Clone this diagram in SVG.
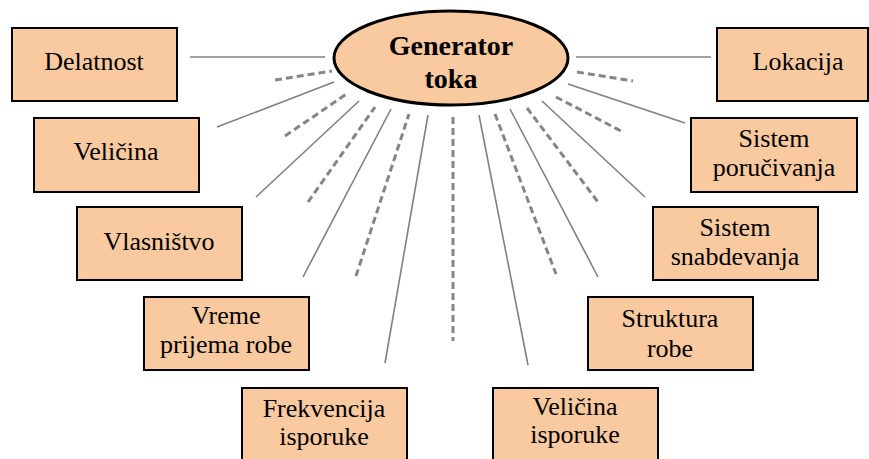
<svg xmlns="http://www.w3.org/2000/svg" width="869" height="459" viewBox="0 0 869 459">
<style>
.box{fill:#F9C9A0;stroke:#000;stroke-width:2}
.t{font-family:"Liberation Serif","Times New Roman",serif;font-size:26px;fill:#000;text-anchor:middle}
.tb{font-family:"Liberation Serif","Times New Roman",serif;font-size:28px;font-weight:bold;fill:#000;text-anchor:middle}
.s{stroke:#808080;stroke-width:1.6;fill:none}
.d{stroke:#858585;stroke-width:3;stroke-dasharray:7 4;fill:none}
</style>
<rect width="869" height="459" fill="#fff"/>
<g id="connectors">
<line class="s" x1="190" y1="57" x2="325" y2="57"/>
<line class="d" x1="275" y1="80" x2="332" y2="71"/>
<line class="s" x1="217" y1="127" x2="334" y2="82"/>
<line class="d" x1="285" y1="136" x2="348" y2="93"/>
<line class="s" x1="256" y1="197" x2="359" y2="101"/>
<line class="d" x1="308" y1="202" x2="375" y2="107"/>
<line class="s" x1="303" y1="277" x2="391" y2="109"/>
<line class="d" x1="356" y1="276" x2="409" y2="114"/>
<line class="s" x1="385" y1="363" x2="428" y2="115"/>
<line class="d" x1="453" y1="117" x2="453" y2="341"/>
<line class="s" x1="479" y1="115" x2="528" y2="365"/>
<line class="d" x1="495" y1="114" x2="556" y2="274"/>
<line class="s" x1="510" y1="109" x2="598" y2="277"/>
<line class="d" x1="527" y1="108" x2="598" y2="202"/>
<line class="s" x1="542" y1="101" x2="645" y2="197"/>
<line class="d" x1="556" y1="97" x2="623" y2="132"/>
<line class="s" x1="568" y1="84" x2="685" y2="123"/>
<line class="d" x1="577" y1="72" x2="633" y2="81"/>
<line class="s" x1="576" y1="57" x2="711" y2="57"/>
</g>
<g id="generator">
<ellipse cx="451" cy="58" rx="117" ry="47" fill="#F9C9A0" stroke="#000" stroke-width="3"/>
<text class="tb" x="451" y="55">Generator</text>
<text class="tb" x="451" y="88">toka</text>
</g>
<g id="delatnost">
<rect class="box" x="12" y="28" width="165" height="73"/>
<text class="t" x="94" y="70">Delatnost</text>
</g>
<g id="velicina">
<rect class="box" x="34" y="118" width="165" height="74"/>
<text class="t" x="116" y="160">Veličina</text>
</g>
<g id="vlasnistvo">
<rect class="box" x="77" y="207" width="165" height="73"/>
<text class="t" x="159" y="250">Vlasništvo</text>
</g>
<g id="vreme">
<rect class="box" x="144" y="297" width="165" height="73"/>
<text class="t" x="226" y="324">Vreme</text>
<text class="t" x="226" y="353">prijema robe</text>
</g>
<g id="frekvencija">
<rect class="box" x="242" y="388" width="165" height="75"/>
<text class="t" x="324" y="417">Frekvencija</text>
<text class="t" x="324" y="445">isporuke</text>
</g>
<g id="lokacija">
<rect class="box" x="717" y="28" width="151" height="73"/>
<text class="t" x="798" y="70">Lokacija</text>
</g>
<g id="sistem-porucivanja">
<rect class="box" x="691" y="118" width="166" height="74"/>
<text class="t" x="774" y="147">Sistem</text>
<text class="t" x="774" y="176">poručivanja</text>
</g>
<g id="sistem-snabdevanja">
<rect class="box" x="653" y="207" width="165" height="73"/>
<text class="t" x="735" y="236">Sistem</text>
<text class="t" x="735" y="265">snabdevanja</text>
</g>
<g id="struktura">
<rect class="box" x="588" y="297" width="165" height="73"/>
<text class="t" x="670" y="327">Struktura</text>
<text class="t" x="670" y="357">robe</text>
</g>
<g id="velicina-isporuke">
<rect class="box" x="493" y="388" width="165" height="75"/>
<text class="t" x="575" y="415">Veličina</text>
<text class="t" x="575" y="443">isporuke</text>
</g>
</svg>
